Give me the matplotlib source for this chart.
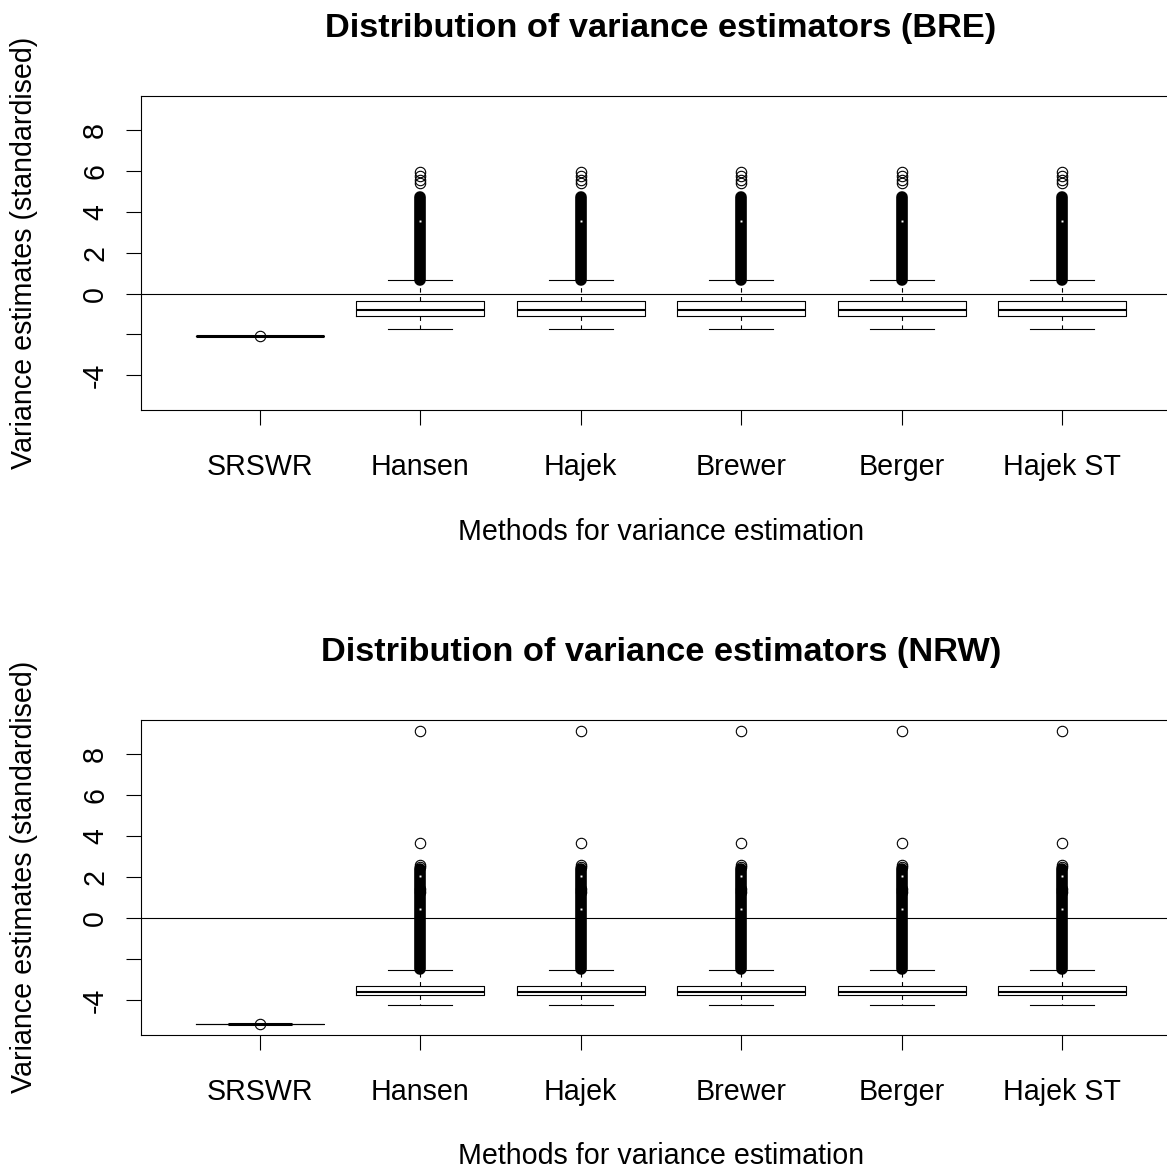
import matplotlib
matplotlib.use("Agg")
import matplotlib.pyplot as plt

plt.rcParams['font.family'] = ['Liberation Sans', 'DejaVu Sans']

methods = ["SRSWR", "Hansen", "Hajek", "Brewer", "Berger", "Hajek ST"]

# BRE: the five design-based estimators all look the same
bre_srswr = -2.09
bre_q1, bre_med, bre_q3 = -1.08, -0.82, -0.34
bre_whislo, bre_whishi = -1.72, 0.69
bre_dense = (0.66, 4.73)          # solid run of overlapping outliers
bre_fliers = [5.44, 5.59, 5.78, 5.98]
bre_holes = [3.54]                # hollow centres showing inside the run

# NRW
nrw_srswr = -5.17
nrw_q1, nrw_med, nrw_q3 = -3.76, -3.62, -3.32
nrw_whislo, nrw_whishi = -4.23, -2.51
nrw_dense = (-2.46, 2.40)
nrw_fliers = [1.29, 1.45, 2.50, 2.60, 3.66, 9.15]
nrw_holes = [0.47, 2.06]

yticks = [-4, -2, 0, 2, 4, 6, 8]
ytick_labels = ["-4", "", "0", "2", "4", "6", "8"]

W, H = 1167, 1171
fs = 20.6


def panel(ax, srswr, q1, med, q3, wlo, whi, dense, fliers, holes, short_median):
    pos = list(range(1, len(methods) + 1))
    stats = [dict(med=srswr, q1=srswr, q3=srswr, whislo=srswr, whishi=srswr,
                  fliers=[srswr])]
    for m in methods[1:]:
        stats.append(dict(med=med, q1=q1, q3=q3, whislo=wlo, whishi=whi,
                          fliers=fliers))
    ax.axhline(0, color='black', lw=0.8)
    ax.vlines(pos[1:], dense[0], dense[1], color='black', lw=8.4,
              capstyle='round')
    art = ax.bxp(stats, positions=pos, widths=0.8, capwidths=0.4,
                 manage_ticks=False,
                 boxprops=dict(color='black', lw=0.8),
                 whiskerprops=dict(color='black', lw=0.8, linestyle=(0, (4, 4))),
                 capprops=dict(color='black', lw=0.8),
                 medianprops=dict(color='black', lw=1.5, solid_capstyle='butt'),
                 flierprops=dict(marker='o', mfc='none', mec='black', ms=7.5,
                                 mew=0.8))
    art['medians'][0].set_linewidth(2.2)
    if short_median:
        art['medians'][0].set_xdata([pos[0] - 0.2, pos[0] + 0.2])
    for p in pos[1:]:
        ax.plot([p] * len(holes), holes, ls='none', marker='s', ms=1.4,
                mfc='white', mec='white', mew=0)

    ax.set_xlim(0.26, 6.74)
    ax.set_ylim(-5.70, 9.68)
    ax.set_xticks(pos)
    ax.set_xticklabels(methods, fontsize=fs)
    ax.set_yticks(yticks)
    ax.set_yticklabels(ytick_labels, fontsize=fs, rotation=90, va='center')
    ax.tick_params(axis='x', length=10.8, width=0.8, pad=20.2)
    ax.tick_params(axis='y', length=10.8, width=0.8, pad=12.2)
    for s in ax.spines.values():
        s.set_linewidth(0.8)


fig = plt.figure(figsize=(W / 100, H / 100), dpi=100)
left = 141 / W
width = (1181 - 141) / W

ax1 = fig.add_axes([left, 1 - 410 / H, width, 314 / H])
panel(ax1, bre_srswr, bre_q1, bre_med, bre_q3, bre_whislo, bre_whishi,
      bre_dense, bre_fliers, bre_holes, False)

ax2 = fig.add_axes([left, 1 - 1035 / H, width, 315 / H])
panel(ax2, nrw_srswr, nrw_q1, nrw_med, nrw_q3, nrw_whislo, nrw_whishi,
      nrw_dense, nrw_fliers, nrw_holes, True)

cx = 661 / W
for off, name, mid in [(0, "BRE", 253), (624, "NRW", 877)]:
    fig.text(cx, 1 - (37 + off) / H,
             f"Distribution of variance estimators ({name})",
             ha='center', va='baseline', fontsize=fs * 1.2, fontweight='bold')
    fig.text(cx, 1 - (540 + off) / H, "Methods for variance estimation",
             ha='center', va='baseline', fontsize=fs)
    fig.text(24 / W, 1 - mid / H, "Variance estimates (standardised)",
             rotation=90, ha='center', va='center', fontsize=fs)

fig.savefig('out.png', dpi=100)
